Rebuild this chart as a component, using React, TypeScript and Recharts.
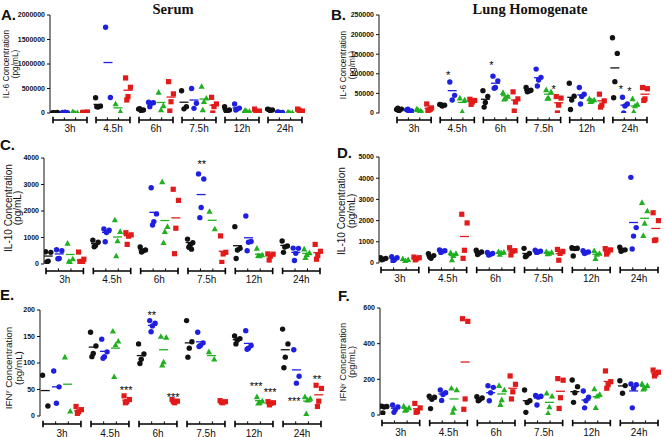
import React from 'react';
import { ScatterChart, Scatter, XAxis, YAxis } from 'recharts';

const TIMES = ['3h', '4.5h', '6h', '7.5h', '12h', '24h'];
// group order inside every time block: black circle, blue circle, green triangle, red square
const STEP = 4.3; // x units between two time blocks (groups are 1 unit apart)
const BR = 0.2; // bracket overhang past the first / last group, x units

// ---- Panel A: IL-6, serum ----
const IL6_SERUM = [
  [[5000, 12000, 0, 8000], [10000, 5000, 15000, 8000], [20000, 5000, 0, 10000], [10000, 20000, 5000, 15000]],
  [[310000, 140000, 120000, 130000], [1750000, 315000], [185000, 28000], [715000, 525000, 335000, 265000]],
  [[80000, 60000, 50000, 90000], [220000, 210000, 200000, 130000], [420000, 145000, 60000], [640000, 390000, 230000, 40000]],
  [[455000, 130000, 85000], [500000, 200000, 95000], [540000, 300000, 230000, 60000], [320000, 185000, 130000, 0]],
  [[130000, 60000, 40000, 50000], [185000, 100000, 80000, 60000], [40000, 30000, 20000, 50000], [80000, 40000, 20000, 10000]],
  [[80000, 60000, 50000, 70000], [20000, 10000, 5000, 15000], [10000, 5000, 0, 15000], [80000, 40000, 20000, 60000]],
];
const IL6_SERUM_MEAN = [
  [6000, 9500, 9000, 12500], [175000, 1030000, 105000, 465000], [70000, 190000, 215000, 325000],
  [220000, 265000, 285000, 160000], [70000, 105000, 35000, 40000], [65000, 12000, 8000, 50000],
];

// ---- Panel B: IL-6, lung homogenate ----
const IL6_LUNG = [
  [[9000, 10000, 6000, 12000], [8000, 5000, 3000, 10000], [10000, 3000, 0, 8000, 5000], [23000, 13000, 8000, 5000, 10000]],
  [[22000, 20000, 18000, 21000], [79000, 45000, 33000], [38000, 33000, 3000], [35000, 32000, 28000, 22000]],
  [[57000, 42000, 27000, 15000], [94000, 82000, 65000, 63000], [52000, 42000, 38000, 35000], [54000, 36000, 28000, 5000]],
  [[65000, 58000, 56000, 54000, 57000], [112000, 91000, 84000, 69000], [59000, 54000, 38000, 37000], [42000, 38000, 20000, 0]],
  [[76000, 43000, 33000, 9000], [65000, 48000, 42000, 23000], [36000, 33000, 31000, 29000], [48000, 31000, 20000, 15000]],
  [[192000, 152000, 80000, 39000], [40000, 23000, 18000, 0], [36000, 22000, 18000, 3000], [65000, 62000, 36000, 32000]],
];
const IL6_LUNG_MEAN = [
  [9000, 7000, 5000, 12000], [20000, 57000, 27000, 30000], [35000, 76000, 44000, 33000],
  [58000, 90000, 48000, 26000], [40000, 46000, 32000, 31000], [115000, 20000, 18000, 48000],
];

// ---- Panel C: IL-10, serum ----
const IL10_SERUM = [
  [[460, 440, 110, 80], [540, 500, 210, 200], [780, 190, 60, 100], [450, 180, 100, 80, 50]],
  [[900, 820, 700, 650], [1320, 1280, 1190, 840], [1660, 1220, 870, 300], [1180, 1100, 1050, 740]],
  [[640, 530, 490, 450], [2880, 1890, 1600, 1470], [3100, 1410, 1220, 800], [2820, 2400, 1350, 390]],
  [[940, 800, 720, 630, 560], [3400, 3210, 2130, 1750], [1980, 1320], [1060, 440, 380, 60]],
  [[1410, 590, 530, 210], [1810, 850, 820, 500], [590, 340, 300, 310], [380, 370, 300, 150]],
  [[870, 680, 640, 440], [600, 590, 400, 130], [560, 420, 350, 240], [740, 480, 320, 180]],
];
const IL10_SERUM_MEAN = [
  [300, 380, 360, 150], [770, 1190, 1020, 1070], [530, 1950, 1640, 1740],
  [810, 2620, 1650, 480], [690, 990, 370, 330], [700, 440, 400, 430],
];

// ---- Panel D: IL-10, lung homogenate ----
const IL10_LUNG = [
  [[250, 220, 180, 150], [300, 250, 150, 90], [200, 150, 100, 10], [280, 250, 200, 150]],
  [[440, 350, 220, 280], [610, 580, 550, 500], [480, 450, 350, 140], [2300, 1890, 600, 220]],
  [[600, 520, 450, 400], [500, 450, 400, 380], [530, 500, 480, 400], [720, 580, 550, 380]],
  [[690, 450, 350, 300], [600, 560, 520, 500], [530, 500, 450, 430], [640, 550, 450, 130]],
  [[720, 700, 680, 330], [580, 520, 480, 450], [580, 450, 400, 200], [680, 620, 520, 420]],
  [[750, 620, 600, 550], [4040, 1670, 1270, 660], [2850, 2450, 1870, 1290], [2370, 2000, 1090, 1060]],
];
const IL10_LUNG_MEAN = [
  [200, 200, 120, 220], [320, 560, 350, 1250], [490, 430, 480, 560],
  [450, 545, 480, 440], [610, 510, 410, 560], [630, 1910, 2110, 1630],
];

// ---- Panel E: IFN-gamma, serum ----
const IFN_SERUM = [
  [[77, 19], [85, 55, 24], [111, 9], [18, 12, 8, 5]],
  [[158, 132, 118, 112], [145, 121, 112, 109], [160, 141, 134, 74], [38, 31, 27, 25]],
  [[136, 117, 107, 99], [180, 175, 170, 159], [150, 148, 102, 96], [31, 28, 25, 27]],
  [[180, 140, 128, 111], [158, 138, 133, 131], [121, 107], [29, 27, 25, 26]],
  [[151, 146, 143, 136], [161, 133, 128, 126], [36, 28, 25, 24], [27, 25, 24, 21]],
  [[164, 136, 111, 91], [125, 75, 62], [36, 33, 30, 4], [58, 52, 28, 18]],
];
const IFN_SERUM_MEAN = [
  [48, 55, 60, 10], [130, 122, 128, 30], [114, 171, 125, 28],
  [138, 140, 114, 27], [144, 137, 29, 24], [125, 87, 28, 40],
];

// ---- Panel F: IFN-gamma, lung homogenate ----
const IFN_LUNG = [
  [[50, 48, 45, 12], [56, 45, 30, 15], [50, 40, 30, 25], [65, 40, 20, 15]],
  [[106, 100, 88, 36], [140, 125, 115, 82], [150, 140, 37, 15], [540, 525, 90, 32]],
  [[103, 95, 85, 80], [164, 155, 125, 80], [165, 140, 85, 58], [219, 172, 130, 90]],
  [[140, 80, 70, 15], [110, 105, 100, 56], [122, 105, 45, 10], [204, 195, 97, 37]],
  [[196, 159, 125, 71], [135, 100, 80, 40], [146, 115, 105, 41], [247, 187, 170, 150]],
  [[192, 165, 122], [174, 170, 150, 40], [175, 165, 150, 145], [252, 240, 230, 219]],
];
const IFN_LUNG_MEAN = [
  [40, 38, 37, 35], [90, 118, 90, 297], [95, 125, 118, 150],
  [80, 95, 71, 133], [131, 84, 103, 188], [163, 135, 160, 233],
];

// significance marks: t = time index, g = position inside the block, y = value at the mark
const STARS_B = [
  { t: 1, g: 0.6, y: 101000, s: '*' },
  { t: 2, g: 0.6, y: 127000, s: '*' },
  { t: 3, g: 2.5, y: 65500, s: '*' },
  { t: 5, g: 0.6, y: 65500, s: '*' },
  { t: 5, g: 1.45, y: 60000, s: '*' },
];
const STARS_C = [{ t: 3, g: 1.05, y: 3860, s: '**' }];
const STARS_E = [
  { t: 1, g: 2.95, y: 52, s: '***' },
  { t: 2, g: 0.95, y: 195, s: '**' },
  { t: 2, g: 2.85, y: 40, s: '***' },
  { t: 4, g: 1.7, y: 60, s: '***' },
  { t: 4, g: 2.95, y: 49, s: '***' },
  { t: 5, g: 0.8, y: 33, s: '***' },
  { t: 5, g: 2.85, y: 74, s: '**' },
];

const COLORS = ['#111111', '#1f1fe0', '#20b020', '#e21a1a'];
const JIT = [-0.24, 0.24, 0, -0.12, 0.12];
const SANS = '"Liberation Sans", Arial, sans-serif';

const pointShape = (gi: number) => (p: any) => {
  const { cx, cy } = p;
  const c = COLORS[gi];
  if (gi === 2) {
    return <path d={`M${cx},${cy - 3.3}L${cx + 3.1},${cy + 2.3}L${cx - 3.1},${cy + 2.3}Z`} fill={c} />;
  }
  if (gi === 3) return <rect x={cx - 2.6} y={cy - 2.6} width={5.2} height={5.2} fill={c} />;
  return <circle cx={cx} cy={cy} r={2.7} fill={c} />;
};

const meanShape = (gi: number) => (p: any) => (
  <line x1={p.cx - 4.5} x2={p.cx + 4.5} y1={p.cy} y2={p.cy} stroke={COLORS[gi]} strokeWidth={1.3} />
);

const starShape = (p: any) => (
  <text x={p.cx} y={p.cy + 6} textAnchor="middle" fontSize={11} fontFamily={SANS} fill="#000">
    {p.payload.s}
  </text>
);

interface PanelCfg {
  values: number[][][];
  means: number[][];
  stars: { t: number; g: number; y: number; s: string }[];
  yMax: number;
  yTicks: number[];
  panelX: number;
  axisX: number;
  topY: number;
  zeroY: number;
  x0: number;
  x1: number;
  brOff: number;
  lblOff: number;
}

const PANELS: PanelCfg[] = [
  { values: IL6_SERUM, means: IL6_SERUM_MEAN, stars: [], yMax: 2000000, yTicks: [0, 500000, 1000000, 1500000, 2000000],
    panelX: 0, axisX: 50, topY: 15, zeroY: 113, x0: 53, x1: 302, brOff: 7, lblOff: 15.5 },
  { values: IL6_LUNG, means: IL6_LUNG_MEAN, stars: STARS_B, yMax: 250000, yTicks: [0, 50000, 100000, 150000, 200000, 250000],
    panelX: 330, axisX: 379, topY: 15, zeroY: 113, x0: 397, x1: 647, brOff: 7, lblOff: 15.5 },
  { values: IL10_SERUM, means: IL10_SERUM_MEAN, stars: STARS_C, yMax: 4000, yTicks: [0, 1000, 2000, 3000, 4000],
    panelX: 0, axisX: 44, topY: 158, zeroY: 264, x0: 46, x1: 320, brOff: 7, lblOff: 15.5 },
  { values: IL10_LUNG, means: IL10_LUNG_MEAN, stars: [], yMax: 5000, yTicks: [0, 1000, 2000, 3000, 4000, 5000],
    panelX: 330, axisX: 379, topY: 157, zeroY: 263, x0: 381, x1: 658, brOff: 7, lblOff: 15.5 },
  { values: IFN_SERUM, means: IFN_SERUM_MEAN, stars: STARS_E, yMax: 200, yTicks: [0, 50, 100, 150, 200],
    panelX: 0, axisX: 40, topY: 310, zeroY: 416, x0: 43, x1: 321, brOff: 8, lblOff: 17 },
  { values: IFN_LUNG, means: IFN_LUNG_MEAN, stars: [], yMax: 600, yTicks: [0, 200, 400, 600],
    panelX: 330, axisX: 380, topY: 308, zeroY: 415, x0: 382, x1: 658, brOff: 8, lblOff: 17 },
];

const Panel = ({ cfg }: { cfg: PanelCfg }) => {
  const span = 5 * STEP + 3 + 2 * BR; // first bracket start -> last bracket end, x units
  const g = (cfg.x1 - cfg.x0) / span; // px per x unit
  const xMin = -BR - (cfg.x0 - cfg.axisX) / g;
  const xMax = 5 * STEP + 3 + BR + 4 / g;
  const chartTop = cfg.topY - 10;
  const width = cfg.x1 + 8 - cfg.panelX;
  const height = cfg.zeroY + 26 - chartTop;
  const baseY = cfg.zeroY - chartTop;
  const halfBr = (1.5 + BR) * g;

  const groupPts = [0, 1, 2, 3].map((gi) =>
    cfg.values.flatMap((block, t) => block[gi].map((y, i) => ({ x: t * STEP + gi + JIT[i], y })))
  );
  const groupMeans = [0, 1, 2, 3].map((gi) => cfg.means.map((m, t) => ({ x: t * STEP + gi, y: m[gi] })));
  const stars = cfg.stars.map((s) => ({ x: s.t * STEP + s.g, y: s.y, s: s.s }));

  const bracket = (p: any) => {
    const idx = Math.round((p.payload.value - 1.5) / STEP);
    const cx = p.x;
    const y = baseY + cfg.brOff;
    const xs = [0, 1, 2, 3].map((k) => cx - halfBr + (k * 2 * halfBr) / 3);
    return (
      <g>
        <line x1={xs[0]} x2={xs[3]} y1={y} y2={y} stroke="#000" strokeWidth={1.6} />
        <line x1={xs[0]} x2={xs[0]} y1={y - 3.2} y2={y + 3.2} stroke="#000" strokeWidth={1.6} />
        <line x1={xs[3]} x2={xs[3]} y1={y - 3.2} y2={y + 3.2} stroke="#000" strokeWidth={1.6} />
        <line x1={xs[1]} x2={xs[1]} y1={y - 2.6} y2={y} stroke="#000" strokeWidth={1} />
        <line x1={xs[2]} x2={xs[2]} y1={y - 2.6} y2={y} stroke="#000" strokeWidth={1} />
        <text x={cx} y={baseY + cfg.lblOff} textAnchor="middle" dominantBaseline="central" fontSize={10}
          fontFamily={SANS} fill="#111">
          {TIMES[idx]}
        </text>
      </g>
    );
  };

  return (
    <div style={{ position: 'absolute', left: cfg.panelX, top: chartTop }}>
      <ScatterChart width={width} height={height} margin={{ top: 10, right: 4, bottom: 0, left: 0 }}>
        <XAxis type="number" dataKey="x" domain={[xMin, xMax]} allowDataOverflow
          ticks={TIMES.map((_, t) => t * STEP + 1.5)} interval={0} tick={bracket}
          axisLine={false} tickLine={false} height={26} />
        <YAxis type="number" dataKey="y" domain={[0, cfg.yMax]} allowDataOverflow ticks={cfg.yTicks}
          width={cfg.axisX - cfg.panelX} interval={0} tickSize={3} tickMargin={2}
          tick={{ fontSize: 7, fontWeight: 'bold', fill: '#111', fontFamily: SANS }}
          axisLine={{ stroke: '#111' }} tickLine={{ stroke: '#111' }} />
        {groupPts.map((d, gi) => (
          <Scatter key={'p' + gi} data={d} shape={pointShape(gi)} isAnimationActive={false} />
        ))}
        {groupMeans.map((d, gi) => (
          <Scatter key={'m' + gi} data={d} shape={meanShape(gi)} isAnimationActive={false} />
        ))}
        {stars.length > 0 && <Scatter data={stars} shape={starShape} isAnimationActive={false} />}
      </ScatterChart>
    </div>
  );
};

const YTitle = ({ x1, x2, cy, fs, ifn, name }: { x1: number; x2: number; cy: number; fs: number; ifn?: boolean; name?: string }) => (
  <g fontFamily={SANS} fontSize={fs} fill="#111" textAnchor="middle">
    <text transform={`translate(${x1 + fs * 0.36},${cy}) rotate(-90)`}>
      {ifn ? (
        <>
          IFN<tspan fontSize={fs * 0.6} dy={-fs * 0.3}>γ</tspan>
          <tspan dy={fs * 0.3}> Concentration</tspan>
        </>
      ) : (
        `${name} Concentration`
      )}
    </text>
    <text transform={`translate(${x2 + fs * 0.36},${cy}) rotate(-90)`}>(pg/mL)</text>
  </g>
);

const App = () => (
  <div style={{ position: 'absolute', left: 0, top: 0, width: 664, height: 437, background: '#fff', overflow: 'hidden' }}>
    {PANELS.map((cfg, i) => (
      <Panel key={i} cfg={cfg} />
    ))}
    <svg width={664} height={437} style={{ position: 'absolute', left: 0, top: 0, pointerEvents: 'none' }}>
      <g fontFamily='"Liberation Serif", "Times New Roman", serif' fontWeight="bold" fontSize={14.5} textAnchor="middle" fill="#111">
        <text x={173} y={13.5}>Serum</text>
        <text x={530} y={13.5}>Lung Homogenate</text>
      </g>
      <g fontFamily={SANS} fontWeight="bold" fontSize={15} fill="#111">
        <text x={1} y={20}>A.</text>
        <text x={331} y={20}>B.</text>
        <text x={0} y={150}>C.</text>
        <text x={337} y={158}>D.</text>
        <text x={0} y={300}>E.</text>
        <text x={338} y={301}>F.</text>
      </g>
      <YTitle x1={6.5} x2={15} cy={64} fs={8.3} name="IL-6" />
      <YTitle x1={343} x2={352.5} cy={65} fs={8.3} name="IL-6" />
      <YTitle x1={8} x2={17.5} cy={208} fs={10} name="IL-10" />
      <YTitle x1={341} x2={351} cy={211} fs={10} name="IL-10" />
      <YTitle x1={8} x2={18} cy={368} fs={9.8} ifn />
      <YTitle x1={343} x2={352} cy={362} fs={9.3} ifn />
    </svg>
  </div>
);

export default App;
